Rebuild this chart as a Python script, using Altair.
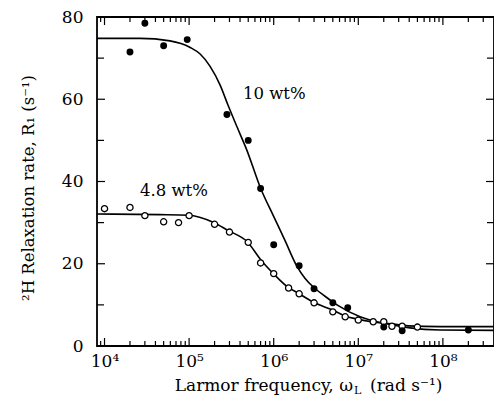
import altair as alt
import pandas as pd

# ---- data ----
filled_w = [2e4, 3e4, 5e4, 9.5e4, 2.8e5, 5e5, 7e5, 1e6, 2e6, 3e6, 5e6, 7.5e6, 2e7, 3.3e7, 2e8]
filled_R = [71.5, 78.5, 73.0, 74.5, 56.3, 50.0, 38.3, 24.6, 19.5, 13.9, 10.5, 9.3, 4.6, 3.7, 3.9]

open_w = [1e4, 2e4, 3e4, 5e4, 7.5e4, 1e5, 2e5, 3e5, 5e5, 7e5, 1e6, 1.5e6, 2e6, 3e6,
          5e6, 7e6, 1e7, 1.5e7, 2e7, 2.5e7, 3.3e7, 5e7]
open_R = [33.4, 33.7, 31.7, 30.2, 30.0, 31.7, 29.6, 27.7, 25.2, 20.2, 17.6, 14.1, 12.7, 10.5,
          8.3, 7.1, 6.3, 5.9, 5.9, 4.8, 4.8, 4.6]

fit10_w = [8.15e3, 2.63e4, 5.94e4, 1.03e5, 1.35e5, 1.77e5, 2.32e5, 2.88e5, 3.68e5, 4.80e5,
           7.02e5, 9.89e5, 1.35e6, 1.87e6, 2.34e6, 2.92e6, 4.04e6, 5.6e6, 1.05e7, 2.57e7,
           4.08e7, 9.25e7, 4.02e8]
fit10_R = [74.8, 74.8, 74.2, 72.6, 71.0, 68.0, 63.5, 58.6, 53.3, 47.7,
           38.3, 31.7, 25.8, 19.5, 16.5, 14.4, 12.1, 10.0, 7.1, 5.1,
           4.4, 3.9, 3.8]

fit48_w = [8.15e3, 4.53e4, 9.7e4, 1.92e5, 2.88e5, 4.83e5, 7.26e5, 9.8e5, 1.47e6, 1.93e6,
           2.91e6, 4.89e6, 6.98e6, 9.42e6, 1.42e7, 2.44e7, 3.88e7, 9.23e7, 4.02e8]
fit48_R = [32.1, 31.95, 31.8, 30.1, 28.1, 25.4, 20.6, 17.7, 14.3, 12.9,
           10.7, 8.8, 7.3, 6.6, 5.9, 5.4, 4.9, 4.7, 4.7]

x_major = [1e4, 1e5, 1e6, 1e7, 1e8]
x_minor = [9e3,
           2e4, 3e4, 4e4, 5e4, 6e4, 7e4, 8e4, 9e4,
           2e5, 3e5, 4e5, 5e5, 6e5, 7e5, 8e5, 9e5,
           2e6, 3e6, 4e6, 5e6, 6e6, 7e6, 8e6, 9e6,
           2e7, 3e7, 4e7, 5e7, 6e7, 7e7, 8e7, 9e7,
           2e8, 3e8]
y_major = [0, 20, 40, 60, 80]
y_minor = [10, 30, 50, 70]

label_10 = "10 wt%"
label_48 = "4.8 wt%"
y_title = "²H Relaxation rate, R₁  (s⁻¹)"
x_title_a = "Larmor frequency, ω"
x_title_sub = "L"
x_title_b = "(rad s⁻¹)"

# ---- layout ----
W, H = 397, 329
FONT = "DejaVu Serif"
xs = alt.Scale(type="log", domain=[8.15e3, 4.02e8], nice=False)
ys = alt.Scale(domain=[0, 80], nice=False)

df_f = pd.DataFrame({"w": filled_w, "R": filled_R})
df_o = pd.DataFrame({"w": open_w, "R": open_R})
df_c10 = pd.DataFrame({"w": fit10_w, "R": fit10_R})
df_c48 = pd.DataFrame({"w": fit48_w, "R": fit48_R})

sup = "['⁰','¹','²','³','⁴','⁵','⁶','⁷','⁸','⁹'][round(log(datum.value)/LN10)]"

base_axes = alt.Chart(pd.DataFrame({"w": x_major, "R": [0, 20, 40, 60, 80]})).mark_point(opacity=0).encode(
    x=alt.X("w:Q", scale=xs, axis=alt.Axis(values=x_major, ticks=False, domain=False, grid=False,
                                           labelExpr="'10' + " + sup, labelFont=FONT, labelFontSize=17,
                                           labelColor="black", labelPadding=7, labelFlush=False, title=None)),
    y=alt.Y("R:Q", scale=ys, axis=alt.Axis(values=y_major, ticks=False, domain=False, grid=False,
                                           labelFont=FONT, labelFontSize=17, labelColor="black",
                                           labelPadding=14, title=None)),
)

line10 = alt.Chart(df_c10).mark_line(color="black", strokeWidth=1.6, interpolate="monotone").encode(
    x=alt.X("w:Q", scale=xs), y=alt.Y("R:Q", scale=ys), order="w:Q")
line48 = alt.Chart(df_c48).mark_line(color="black", strokeWidth=1.6, interpolate="monotone").encode(
    x=alt.X("w:Q", scale=xs), y=alt.Y("R:Q", scale=ys), order="w:Q")

pts_o = alt.Chart(df_o).mark_point(shape="circle", filled=False, fill="white", fillOpacity=1,
                                   stroke="black", strokeWidth=1.3, size=38, opacity=1).encode(
    x=alt.X("w:Q", scale=xs), y=alt.Y("R:Q", scale=ys))
pts_f = alt.Chart(df_f).mark_point(shape="circle", filled=True, color="black", size=48, opacity=1).encode(
    x=alt.X("w:Q", scale=xs), y=alt.Y("R:Q", scale=ys))

def xticks(vals, length):
    d = pd.DataFrame({"w": vals})
    bot = alt.Chart(d).mark_rule(color="black", strokeWidth=1.2).encode(
        x=alt.X("w:Q", scale=xs), y=alt.value(H), y2=alt.value(H - length))
    top = alt.Chart(d).mark_rule(color="black", strokeWidth=1.2).encode(
        x=alt.X("w:Q", scale=xs), y=alt.value(0), y2=alt.value(length))
    return [bot, top]

def yticks(vals, length):
    d = pd.DataFrame({"R": vals})
    left = alt.Chart(d).mark_rule(color="black", strokeWidth=1.2).encode(
        y=alt.Y("R:Q", scale=ys), x=alt.value(0), x2=alt.value(length))
    right = alt.Chart(d).mark_rule(color="black", strokeWidth=1.2).encode(
        y=alt.Y("R:Q", scale=ys), x=alt.value(W - length), x2=alt.value(W))
    return [left, right]

def text(t, x, y, size=17, align="left", angle=0):
    kw = dict(align=align, baseline="alphabetic", font=FONT, fontSize=size, color="black")
    if angle:
        kw["angle"] = angle
    return alt.Chart(pd.DataFrame({"t": [t]})).mark_text(**kw).encode(
        text="t:N", x=alt.value(x), y=alt.value(y))

layers = [base_axes, line10, line48, pts_o, pts_f]
layers += xticks(x_major, 8) + xticks(x_minor, 5) + yticks(y_major, 8) + yticks(y_minor, 7)
layers += [
    text(label_10, 146, 82, 16.5),
    text(label_48, 43, 179, 16.5),
    text(y_title, -63, 171, 16.5, align="center", angle=270),
    text(x_title_a, 256, 374, 17, align="right"),
    text(x_title_sub, 257, 377, 11, align="left"),
    text(x_title_b, 273, 374, 17, align="left"),
]

chart = alt.layer(*layers).properties(
    width=W, height=H,
    autosize=alt.AutoSizeParams(type="none"),
    padding={"left": 89, "top": 9, "right": 0, "bottom": 50},
    background="white",
).configure_view(stroke="black", strokeWidth=1.8)

chart.save("out.html", embed_options={"renderer": "svg", "actions": False})
